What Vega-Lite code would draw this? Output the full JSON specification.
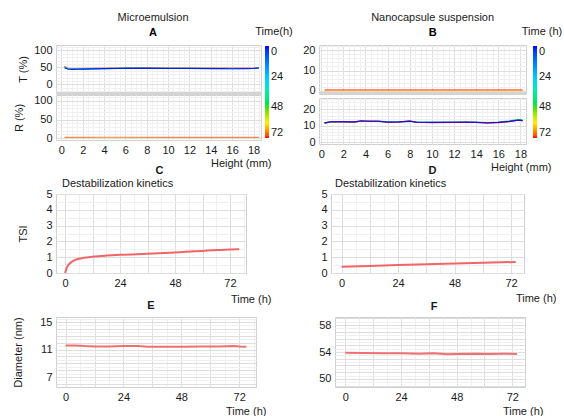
{
"$schema": "https://vega.github.io/schema/vega-lite/v6.json",
"padding": {"left": 12, "top": 12, "right": 0, "bottom": 0},
"background": "white",
"config": {
  "font": "Liberation Sans",
  "view": {"stroke": "#cfcfcf"},
  "axis": {"labelFontSize": 11, "labelColor": "#1a1a1a", "titleFontSize": 11, "titleFontWeight": "normal", "titleColor": "#1a1a1a", "domain": false, "ticks": false, "labelOverlap": false, "labelBound": false, "labelFlush": false, "labelPadding": 4, "format": "d"},
  "title": {"fontSize": 11, "fontWeight": "normal", "color": "#1a1a1a", "subtitleFontSize": 11, "subtitleFontWeight": "bold", "subtitleColor": "#000000", "subtitlePadding": 4, "offset": 6, "anchor": "middle"},
  "legend": {"orient": "none", "direction": "vertical", "gradientLength": 92, "gradientThickness": 4, "titleAnchor": "middle", "titleFontWeight": "normal", "titleFontSize": 11, "titleColor": "#1a1a1a", "labelFontSize": 11, "labelColor": "#1a1a1a", "gradientStrokeWidth": 0, "labelOffset": 5, "titlePadding": 9, "labelOverlap": false},
  "concat": {"spacing": 0}
},
"datasets": {
  "tA": [
    {"h":0.3,"v":53,"t":72},{"h":0.6,"v":47,"t":72},{"h":1,"v":46,"t":72},{"h":2,"v":46.5,"t":72},{"h":4,"v":47.5,"t":72},{"h":6,"v":48.5,"t":72},{"h":8,"v":48.8,"t":72},{"h":10,"v":48.2,"t":72},{"h":12,"v":48,"t":72},{"h":14,"v":47.5,"t":72},{"h":16,"v":47.2,"t":72},{"h":18,"v":47.5,"t":72},{"h":18.5,"v":48,"t":72},
    {"h":0.3,"v":51,"t":48},{"h":0.6,"v":46.5,"t":48},{"h":1,"v":45.5,"t":48},{"h":2,"v":46,"t":48},{"h":4,"v":47,"t":48},{"h":6,"v":47.8,"t":48},{"h":8,"v":48,"t":48},{"h":10,"v":47.6,"t":48},{"h":12,"v":47.5,"t":48},{"h":14,"v":47.3,"t":48},{"h":16,"v":47,"t":48},{"h":18,"v":47.4,"t":48},{"h":18.5,"v":48,"t":48},
    {"h":0.3,"v":50,"t":24},{"h":0.6,"v":46,"t":24},{"h":1,"v":45,"t":24},{"h":2,"v":45.6,"t":24},{"h":4,"v":46.8,"t":24},{"h":6,"v":47.4,"t":24},{"h":8,"v":47.5,"t":24},{"h":10,"v":47.2,"t":24},{"h":12,"v":47.2,"t":24},{"h":14,"v":47,"t":24},{"h":16,"v":46.8,"t":24},{"h":18,"v":47.3,"t":24},{"h":18.5,"v":48,"t":24},
    {"h":0.3,"v":49,"t":0},{"h":0.6,"v":45.5,"t":0},{"h":1,"v":44.5,"t":0},{"h":1.5,"v":44.8,"t":0},{"h":2,"v":45.3,"t":0},{"h":3,"v":46,"t":0},{"h":4,"v":46.5,"t":0},{"h":5,"v":47,"t":0},{"h":6,"v":47.2,"t":0},{"h":8,"v":47.2,"t":0},{"h":10,"v":47,"t":0},{"h":12,"v":47,"t":0},{"h":14,"v":46.8,"t":0},{"h":15,"v":46.5,"t":0},{"h":16,"v":46.3,"t":0},{"h":17,"v":46.5,"t":0},{"h":18,"v":47,"t":0},{"h":18.5,"v":48.5,"t":0}
  ],
  "rA": [
    {"h":0.3,"v":1.2,"t":60},{"h":6,"v":1.5,"t":60},{"h":12,"v":1.2,"t":60},{"h":18.5,"v":1.4,"t":60},
    {"h":0.3,"v":2,"t":72},{"h":5,"v":2.4,"t":72},{"h":10,"v":1.8,"t":72},{"h":15,"v":2.2,"t":72},{"h":18.5,"v":2,"t":72}
  ],
  "tB": [
    {"h":0.3,"v":0.2,"t":60},{"h":18.2,"v":0.2,"t":60},
    {"h":0.3,"v":0.5,"t":72},{"h":18.2,"v":0.5,"t":72}
  ],
  "rB": [
    {"h":0.3,"v":11.5,"t":48},{"h":0.8,"v":12.1,"t":48},{"h":2,"v":12.3,"t":48},{"h":3,"v":12.1,"t":48},{"h":3.6,"v":12.8,"t":48},{"h":4.2,"v":12.6,"t":48},{"h":5.2,"v":12.5,"t":48},{"h":6,"v":12.2,"t":48},{"h":7,"v":12.2,"t":48},{"h":8,"v":12.7,"t":48},{"h":8.6,"v":12.1,"t":48},{"h":10,"v":12,"t":48},{"h":12,"v":12,"t":48},{"h":13,"v":12.1,"t":48},{"h":14,"v":12,"t":48},{"h":15,"v":11.8,"t":48},{"h":16,"v":12.1,"t":48},{"h":17,"v":12.8,"t":48},{"h":17.8,"v":13.8,"t":48},{"h":18.2,"v":13.5,"t":48},
    {"h":0.3,"v":11.5,"t":24},{"h":0.8,"v":12.2,"t":24},{"h":2,"v":12.3,"t":24},{"h":3,"v":12.3,"t":24},{"h":3.6,"v":12.7,"t":24},{"h":4.2,"v":12.5,"t":24},{"h":5.2,"v":12.7,"t":24},{"h":6,"v":12.2,"t":24},{"h":7,"v":12.3,"t":24},{"h":8,"v":12.5,"t":24},{"h":8.6,"v":12,"t":24},{"h":10,"v":11.9,"t":24},{"h":12,"v":12.1,"t":24},{"h":13,"v":12,"t":24},{"h":14,"v":12,"t":24},{"h":15,"v":11.8,"t":24},{"h":16,"v":12,"t":24},{"h":17,"v":12.6,"t":24},{"h":17.8,"v":13.5,"t":24},{"h":18.2,"v":13.2,"t":24},
    {"h":0.3,"v":11.4,"t":72},{"h":0.8,"v":12.2,"t":72},{"h":2,"v":12.2,"t":72},{"h":3,"v":12.1,"t":72},{"h":3.6,"v":12.6,"t":72},{"h":4.2,"v":12.7,"t":72},{"h":5.2,"v":12.5,"t":72},{"h":6,"v":12,"t":72},{"h":7,"v":12.1,"t":72},{"h":8,"v":12.8,"t":72},{"h":8.6,"v":12,"t":72},{"h":10,"v":11.8,"t":72},{"h":12,"v":11.9,"t":72},{"h":13,"v":11.9,"t":72},{"h":14,"v":11.9,"t":72},{"h":15,"v":11.4,"t":72},{"h":16,"v":11.8,"t":72},{"h":17,"v":12.4,"t":72},{"h":17.8,"v":13.2,"t":72},{"h":18.2,"v":13,"t":72},
    {"h":0.3,"v":11.6,"t":0},{"h":0.8,"v":12.3,"t":0},{"h":2,"v":12.4,"t":0},{"h":3,"v":12.2,"t":0},{"h":3.6,"v":12.9,"t":0},{"h":4.2,"v":12.6,"t":0},{"h":5.2,"v":12.6,"t":0},{"h":6,"v":12.1,"t":0},{"h":7,"v":12.2,"t":0},{"h":8,"v":12.6,"t":0},{"h":8.6,"v":12.1,"t":0},{"h":10,"v":11.9,"t":0},{"h":12,"v":12,"t":0},{"h":13,"v":12.1,"t":0},{"h":14,"v":11.9,"t":0},{"h":15,"v":11.7,"t":0},{"h":16,"v":11.9,"t":0},{"h":17,"v":12.5,"t":0},{"h":17.8,"v":13.3,"t":0},{"h":18.2,"v":13,"t":0}
  ],
  "tsiC": [
    {"t":0,"v":0},{"t":0.5,"v":0.25},{"t":1,"v":0.42},{"t":2,"v":0.6},{"t":3,"v":0.72},{"t":4,"v":0.8},{"t":6,"v":0.9},{"t":8,"v":0.96},{"t":12,"v":1.03},{"t":18,"v":1.1},{"t":24,"v":1.15},{"t":36,"v":1.22},{"t":48,"v":1.3},{"t":60,"v":1.4},{"t":66,"v":1.45},{"t":72,"v":1.48},{"t":76,"v":1.5}
  ],
  "tsiD": [
    {"t":0,"v":0.4},{"t":12,"v":0.45},{"t":24,"v":0.5},{"t":36,"v":0.55},{"t":48,"v":0.6},{"t":60,"v":0.65},{"t":74,"v":0.7}
  ],
  "dE": [
    {"t":0,"v":11.6},{"t":4,"v":11.6},{"t":8,"v":11.5},{"t":12,"v":11.45},{"t":18,"v":11.45},{"t":24,"v":11.5},{"t":30,"v":11.5},{"t":34,"v":11.4},{"t":40,"v":11.4},{"t":48,"v":11.4},{"t":56,"v":11.45},{"t":64,"v":11.45},{"t":70,"v":11.5},{"t":72,"v":11.45},{"t":75,"v":11.4}
  ],
  "dF": [
    {"t":0,"v":53.9},{"t":8,"v":53.85},{"t":16,"v":53.8},{"t":24,"v":53.8},{"t":32,"v":53.75},{"t":38,"v":53.8},{"t":44,"v":53.65},{"t":48,"v":53.7},{"t":56,"v":53.75},{"t":62,"v":53.7},{"t":68,"v":53.75},{"t":74,"v":53.7}
  ]
},
"spacing": -9,
"vconcat": [
  {
    "hconcat": [
      {
        "title": {"text": "Microemulsion", "subtitle": "A", "offset": -12},
        "spacing": 0,
        "vconcat": [
          {
            "width": 205, "height": 48,
            "data": {"name": "tA"},
            "mark": {"type": "line", "strokeWidth": 1.2, "strokeOpacity": 0.85},
            "encoding": {
              "x": {"field": "h", "type": "quantitative", "scale": {"domain": [-0.5, 18.7], "nice": false, "zero": false},
                    "axis": {"title": null, "labels": false, "domain": true, "domainColor": "#d4d4d4", "domainWidth": 3, "values": [0,0.5,1,1.5,2,2.5,3,3.5,4,4.5,5,5.5,6,6.5,7,7.5,8,8.5,9,9.5,10,10.5,11,11.5,12,12.5,13,13.5,14,14.5,15,15.5,16,16.5,17,17.5,18,18.5],
                             "gridColor": {"condition": {"test": "datum.value % 2 === 0", "value": "#dedede"}, "value": "#f0f0f0"}}},
              "y": {"field": "v", "type": "quantitative", "scale": {"domain": [-25, 116], "nice": false, "zero": false},
                    "axis": {"title": "T (%)", "titlePadding": 5, "values": [-20,-10,0,10,20,30,40,50,60,70,80,90,100,110],
                             "labelExpr": "datum.value % 50 === 0 ? datum.label : ''",
                             "labelFontSize": {"condition": {"test": "datum.value % 50 === 0", "value": 11}, "value": 0},
                             "gridColor": {"condition": {"test": "datum.value % 50 === 0", "value": "#dedede"}, "value": "#f0f0f0"}}},
              "color": {"field": "t", "type": "quantitative",
                        "scale": {"domain": [72,60,48,36,24,12,0], "range": ["#ff0000","#ffee00","#20e020","#00f0a0","#00c8ff","#0070ff","#0000ff"]},
                        "legend": {"title": "Time(h)", "legendX": 199, "legendY": -19, "values": [0,24,48,72]}},
              "detail": {"field": "t", "type": "nominal"}
            }
          },
          {
            "width": 205, "height": 45,
            "data": {"name": "rA"},
            "mark": {"type": "line", "strokeWidth": 1.2, "strokeOpacity": 0.45},
            "encoding": {
              "x": {"field": "h", "type": "quantitative", "scale": {"domain": [-0.5, 18.7], "nice": false, "zero": false},
                    "axis": {"title": "Height (mm)", "titleX": 215, "titleY": 17, "titleAlign": "right", "titleBaseline": "top",
                             "values": [0,0.5,1,1.5,2,2.5,3,3.5,4,4.5,5,5.5,6,6.5,7,7.5,8,8.5,9,9.5,10,10.5,11,11.5,12,12.5,13,13.5,14,14.5,15,15.5,16,16.5,17,17.5,18,18.5],
                             "labelExpr": "datum.value % 2 === 0 ? datum.label : ''",
                             "gridColor": {"condition": {"test": "datum.value % 2 === 0", "value": "#dedede"}, "value": "#f0f0f0"}}},
              "y": {"field": "v", "type": "quantitative", "scale": {"domain": [-5, 116], "nice": false, "zero": false},
                    "axis": {"title": "R (%)", "titlePadding": 9, "values": [0,10,20,30,40,50,60,70,80,90,100,110],
                             "labelExpr": "datum.value % 50 === 0 ? datum.label : ''",
                             "labelFontSize": {"condition": {"test": "datum.value % 50 === 0", "value": 11}, "value": 0},
                             "gridColor": {"condition": {"test": "datum.value % 50 === 0", "value": "#dedede"}, "value": "#f0f0f0"}}},
              "color": {"field": "t", "type": "quantitative",
                        "scale": {"domain": [72,60,48,36,24,12,0], "range": ["#ff0000","#ffee00","#20e020","#00f0a0","#00c8ff","#0070ff","#0000ff"]},
                        "legend": {"title": "Time(h)", "legendX": 199, "legendY": -19, "values": [0,24,48,72]}},
              "detail": {"field": "t", "type": "nominal"}
            }
          }
        ]
      },
      {
        "title": {"text": "Nanocapsule suspension", "subtitle": "B", "offset": -12},
        "spacing": 0,
        "vconcat": [
          {
            "width": 207, "height": 48,
            "data": {"name": "tB"},
            "mark": {"type": "line", "strokeWidth": 2, "strokeOpacity": 0.4},
            "encoding": {
              "x": {"field": "h", "type": "quantitative", "scale": {"domain": [-0.2, 18.5], "nice": false, "zero": false},
                    "axis": {"title": null, "labels": false, "domain": true, "domainColor": "#d4d4d4", "domainWidth": 3, "values": [0,0.5,1,1.5,2,2.5,3,3.5,4,4.5,5,5.5,6,6.5,7,7.5,8,8.5,9,9.5,10,10.5,11,11.5,12,12.5,13,13.5,14,14.5,15,15.5,16,16.5,17,17.5,18],
                             "gridColor": {"condition": {"test": "datum.value % 2 === 0", "value": "#dedede"}, "value": "#f0f0f0"}}},
              "y": {"field": "v", "type": "quantitative", "scale": {"domain": [-1, 22.5], "nice": false, "zero": false},
                    "axis": {"title": null, "values": [0,2,4,6,8,10,12,14,16,18,20,22],
                             "labelExpr": "datum.value % 10 === 0 ? datum.label : ''",
                             "labelFontSize": {"condition": {"test": "datum.value % 10 === 0", "value": 11}, "value": 0},
                             "gridColor": {"condition": {"test": "datum.value % 10 === 0", "value": "#dedede"}, "value": "#f0f0f0"}}},
              "color": {"field": "t", "type": "quantitative",
                        "scale": {"domain": [72,60,48,36,24,12,0], "range": ["#ff0000","#ffee00","#20e020","#00f0a0","#00c8ff","#0070ff","#0000ff"]},
                        "legend": {"title": "Time (h)", "legendX": 203, "legendY": -19, "values": [0,24,48,72]}},
              "detail": {"field": "t", "type": "nominal"}
            }
          },
          {
            "width": 207, "height": 46,
            "data": {"name": "rB"},
            "mark": {"type": "line", "strokeWidth": 1.2, "strokeOpacity": 0.85},
            "encoding": {
              "x": {"field": "h", "type": "quantitative", "scale": {"domain": [-0.2, 18.5], "nice": false, "zero": false},
                    "axis": {"title": "Height (mm)", "titleX": 232, "titleY": 17, "titleAlign": "right", "titleBaseline": "top",
                             "values": [0,0.5,1,1.5,2,2.5,3,3.5,4,4.5,5,5.5,6,6.5,7,7.5,8,8.5,9,9.5,10,10.5,11,11.5,12,12.5,13,13.5,14,14.5,15,15.5,16,16.5,17,17.5,18],
                             "labelExpr": "datum.value % 2 === 0 ? datum.label : ''",
                             "gridColor": {"condition": {"test": "datum.value % 2 === 0", "value": "#dedede"}, "value": "#f0f0f0"}}},
              "y": {"field": "v", "type": "quantitative", "scale": {"domain": [-1.2, 26.7], "nice": false, "zero": false},
                    "axis": {"title": null, "values": [0,2,4,6,8,10,12,14,16,18,20,22,24,26],
                             "labelExpr": "datum.value % 10 === 0 ? datum.label : ''",
                             "labelFontSize": {"condition": {"test": "datum.value % 10 === 0", "value": 11}, "value": 0},
                             "gridColor": {"condition": {"test": "datum.value % 10 === 0", "value": "#dedede"}, "value": "#f0f0f0"}}},
              "color": {"field": "t", "type": "quantitative",
                        "scale": {"domain": [72,60,48,36,24,12,0], "range": ["#ff0000","#ffee00","#20e020","#00f0a0","#00c8ff","#0070ff","#0000ff"]},
                        "legend": {"title": "Time (h)", "legendX": 203, "legendY": -19, "values": [0,24,48,72]}},
              "detail": {"field": "t", "type": "nominal"}
            }
          }
        ]
      }
    ],
    "spacing": 9,
    "resolve": {"scale": {"color": "independent"}, "legend": {"color": "independent"}}
  },
  {
    "spacing": -6,
    "vconcat": [
      {
        "hconcat": [
          {
            "title": {"text": "C", "fontWeight": "bold", "offset": 2, "dx": 15},
            "vconcat": [
              {
                "title": {"text": "Destabilization kinetics", "anchor": "start", "frame": "group", "offset": -1, "dx": 6},
                "width": 190, "height": 79,
                "data": {"name": "tsiC"},
                "mark": {"type": "line", "color": "#f06666", "strokeWidth": 2, "interpolate": "monotone"},
                "encoding": {
                  "x": {"field": "t", "type": "quantitative", "scale": {"domain": [-4, 79], "nice": false, "zero": false},
                        "axis": {"title": "Time (h)", "titleX": 215, "titleY": 20, "titleAlign": "right", "titleBaseline": "top",
                                 "values": [0,6,12,18,24,30,36,42,48,54,60,66,72,78],
                                 "labelExpr": "datum.value % 24 === 0 ? datum.label : ''",
                                 "gridColor": {"condition": {"test": "datum.value % 12 === 0", "value": "#dedede"}, "value": "#f0f0f0"}}},
                  "y": {"field": "v", "type": "quantitative", "scale": {"domain": [0, 5], "nice": false},
                        "axis": {"title": "TSI", "titlePadding": 17, "values": [0,0.5,1,1.5,2,2.5,3,3.5,4,4.5,5],
                                 "labelExpr": "datum.value % 1 === 0 ? datum.label : ''",
                                 "labelFontSize": {"condition": {"test": "datum.value % 1 === 0", "value": 11}, "value": 0},
                                 "gridColor": {"condition": {"test": "datum.value % 1 === 0", "value": "#dedede"}, "value": "#f0f0f0"}}}
                }
              }
            ]
          },
          {
            "title": {"text": "D", "fontWeight": "bold", "offset": 2, "dx": -6},
            "vconcat": [
              {
                "title": {"text": "Destabilization kinetics", "anchor": "start", "frame": "group", "offset": -1, "dx": 4},
                "width": 193, "height": 79,
                "data": {"name": "tsiD"},
                "mark": {"type": "line", "color": "#f06666", "strokeWidth": 2},
                "encoding": {
                  "x": {"field": "t", "type": "quantitative", "scale": {"domain": [-4.5, 77.5], "nice": false, "zero": false},
                        "axis": {"title": "Time (h)", "titleX": 225, "titleY": 19, "titleAlign": "right", "titleBaseline": "top",
                                 "values": [0,6,12,18,24,30,36,42,48,54,60,66,72],
                                 "labelExpr": "datum.value % 24 === 0 ? datum.label : ''",
                                 "gridColor": {"condition": {"test": "datum.value % 12 === 0", "value": "#dedede"}, "value": "#f0f0f0"}}},
                  "y": {"field": "v", "type": "quantitative", "scale": {"domain": [0, 5], "nice": false},
                        "axis": {"title": null, "values": [0,0.5,1,1.5,2,2.5,3,3.5,4,4.5,5],
                                 "labelExpr": "datum.value % 1 === 0 ? datum.label : ''",
                                 "labelFontSize": {"condition": {"test": "datum.value % 1 === 0", "value": 11}, "value": 0},
                                 "gridColor": {"condition": {"test": "datum.value % 1 === 0", "value": "#dedede"}, "value": "#f0f0f0"}}}
                }
              }
            ]
          }
        ],
        "spacing": 48
      },
      {
        "hconcat": [
          {
            "title": {"text": "E", "fontWeight": "bold", "offset": 5, "dx": -5},
            "width": 200, "height": 70,
            "data": {"name": "dE"},
            "mark": {"type": "line", "color": "#f07070", "strokeWidth": 2},
            "encoding": {
              "x": {"field": "t", "type": "quantitative", "scale": {"domain": [-4, 79], "nice": false, "zero": false},
                    "axis": {"title": "Time (h)", "titleX": 210, "titleY": 18, "titleAlign": "right", "titleBaseline": "top",
                             "values": [0,6,12,18,24,30,36,42,48,54,60,66,72,78],
                             "labelExpr": "datum.value % 24 === 0 ? datum.label : ''",
                             "gridColor": {"condition": {"test": "datum.value % 12 === 0", "value": "#dedede"}, "value": "#f0f0f0"}}},
              "y": {"field": "v", "type": "quantitative", "scale": {"domain": [5.55, 15.73], "nice": false, "zero": false},
                    "axis": {"title": "Diameter (nm)", "titlePadding": 16, "values": [6,6.5,7,7.5,8,8.5,9,9.5,10,10.5,11,11.5,12,12.5,13,13.5,14,14.5,15,15.5],
                             "labelExpr": "(datum.value - 7) % 4 === 0 ? datum.label : ''",
                             "labelFontSize": {"condition": {"test": "(datum.value - 7) % 4 === 0", "value": 11}, "value": 0},
                             "gridColor": {"condition": {"test": "datum.value % 1 === 0", "value": "#dedede"}, "value": "#f0f0f0"}}}
            }
          },
          {
            "title": {"text": "F", "fontWeight": "bold", "offset": 5, "dx": 4},
            "width": 190, "height": 70,
            "data": {"name": "dF"},
            "mark": {"type": "line", "color": "#f07070", "strokeWidth": 2},
            "encoding": {
              "x": {"field": "t", "type": "quantitative", "scale": {"domain": [-4.5, 77.5], "nice": false, "zero": false},
                    "axis": {"title": "Time (h)", "titleX": 208, "titleY": 18, "titleAlign": "right", "titleBaseline": "top",
                             "values": [0,6,12,18,24,30,36,42,48,54,60,66,72],
                             "labelExpr": "datum.value % 24 === 0 ? datum.label : ''",
                             "gridColor": {"condition": {"test": "datum.value % 12 === 0", "value": "#dedede"}, "value": "#f0f0f0"}}},
              "y": {"field": "v", "type": "quantitative", "scale": {"domain": [48.8, 59.2], "nice": false, "zero": false},
                    "axis": {"title": null, "values": [49,49.5,50,50.5,51,51.5,52,52.5,53,53.5,54,54.5,55,55.5,56,56.5,57,57.5,58,58.5,59],
                             "labelExpr": "(datum.value - 50) % 4 === 0 ? datum.label : ''",
                             "labelFontSize": {"condition": {"test": "(datum.value - 50) % 4 === 0", "value": 11}, "value": 0},
                             "gridColor": {"condition": {"test": "datum.value % 1 === 0", "value": "#dedede"}, "value": "#f0f0f0"}}}
            }
          }
        ],
        "spacing": 51
      }
    ]
  }
]
}
